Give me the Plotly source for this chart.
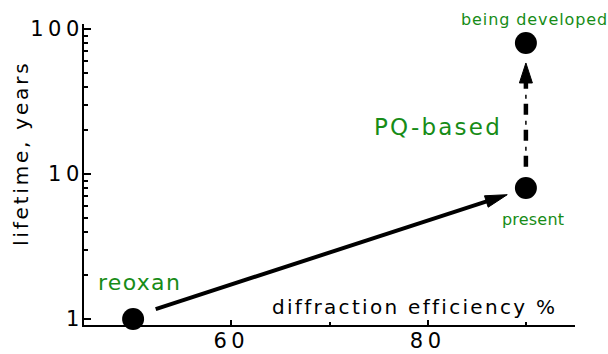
import math
import plotly.graph_objects as go

# ---------------- data ----------------
points_x = [50, 90, 90]
points_y = [1, 8, 80]
point_labels = ["reoxan", "present", "being developed"]

trend_x = [52.3, 88.1]      # solid arrow: reoxan -> present
trend_y = [1.17, 7.2]
dev_x = [90, 90]            # dash-dot arrow: present -> being developed
dev_y = [11.2, 58.3]

x_ticks = [60, 80]
x_tick_labels = ["60", "80"]
x_minor_ticks = [50, 70, 90]
y_ticks = [1, 10, 100]
y_tick_labels = ["1", "10", "100"]
y_minor_ticks = [2, 3, 4, 5, 6, 7, 8, 9, 20, 30, 40, 50, 60, 70, 80, 90]

group_label = "PQ-based"
x_title = "diffraction efficiency %"
y_title = "lifetime, years"

# ---------------- layout constants ----------------
W, H = 608, 354
ML, MR, MT, MB = 84, 33, 24, 29
PW, PH = W - ML - MR, H - MT - MB
X_RANGE = [45, 95]
Y_RANGE = [-0.0414, 2.0345]
FONT = "DejaVu Sans"
GREEN = "#178c17"


def to_px(x, y):
    px = ML + (x - X_RANGE[0]) / (X_RANGE[1] - X_RANGE[0]) * PW
    py = MT + (Y_RANGE[1] - math.log10(y)) / (Y_RANGE[1] - Y_RANGE[0]) * PH
    return px, py


def to_data(px, py):
    x = X_RANGE[0] + (px - ML) / PW * (X_RANGE[1] - X_RANGE[0])
    ly = Y_RANGE[1] - (py - MT) / PH * (Y_RANGE[1] - Y_RANGE[0])
    return x, 10 ** ly


def paper(px, py):
    return (px - ML) / PW, 1 - (py - MT) / PH


def arrow_parts(xs, ys, head_len, head_w):
    (sx, sy), (tx, ty) = to_px(xs[0], ys[0]), to_px(xs[1], ys[1])
    dx, dy = tx - sx, ty - sy
    L = math.hypot(dx, dy)
    ux, uy = dx / L, dy / L
    nx, ny = -uy, ux
    bx, by = tx - head_len * ux, ty - head_len * uy
    shaft_end = to_data(bx + 2 * ux, by + 2 * uy)
    c1 = to_data(bx + nx * head_w / 2, by + ny * head_w / 2)
    c2 = to_data(bx - nx * head_w / 2, by - ny * head_w / 2)
    shaft = ([xs[0], shaft_end[0]], [ys[0], shaft_end[1]])
    head = ([xs[1], c1[0], c2[0], xs[1]], [ys[1], c1[1], c2[1], ys[1]])
    return shaft, head


def spaced(text, s):
    return f'<span style="letter-spacing:{s}px">{text}</span>'


fig = go.Figure()

# solid arrow
shaft, head = arrow_parts(trend_x, trend_y, 22, 12)
fig.add_trace(go.Scatter(x=shaft[0], y=shaft[1], mode="lines",
                         line=dict(color="black", width=4), hoverinfo="skip"))
fig.add_trace(go.Scatter(x=head[0], y=head[1], mode="lines", fill="toself",
                         fillcolor="black", line=dict(color="black", width=1),
                         hoverinfo="skip"))

# dash-dot arrow
shaft2, head2 = arrow_parts(dev_x, dev_y, 20, 13)
fig.add_trace(go.Scatter(x=shaft2[0], y=shaft2[1], mode="lines",
                         line=dict(color="black", width=4.5, dash="11px,15px"),
                         hoverinfo="skip"))
fig.add_trace(go.Scatter(x=shaft2[0], y=shaft2[1], mode="lines",
                         line=dict(color="black", width=1.5, dash="0px,16px,4px,6px"),
                         hoverinfo="skip"))
fig.add_trace(go.Scatter(x=head2[0], y=head2[1], mode="lines", fill="toself",
                         fillcolor="black", line=dict(color="black", width=1),
                         hoverinfo="skip"))

# points
fig.add_trace(go.Scatter(x=points_x, y=points_y, mode="markers",
                         marker=dict(color="black", size=22, line=dict(width=0)),
                         cliponaxis=False, hoverinfo="skip"))

annotations = []
# point labels (offsets in px)
label_style = [
    dict(size=22, s=1.3, xshift=6, yshift=37),
    dict(size=16, s=0.2, xshift=7, yshift=-31),
    dict(size=16, s=0.9, xshift=9, yshift=24),
]
for xv, yv, txt, st in zip(points_x, points_y, point_labels, label_style):
    annotations.append(dict(
        x=xv, y=math.log10(yv), xref="x", yref="y", showarrow=False,
        text=spaced(txt, st["s"]), xshift=st["xshift"], yshift=st["yshift"],
        font=dict(family=FONT, size=st["size"], color=GREEN),
        xanchor="center", yanchor="middle"))

gx, gy = paper(438, 127)
annotations.append(dict(x=gx, y=gy, xref="paper", yref="paper", showarrow=False,
                        text=spaced(group_label, 2.2),
                        font=dict(family=FONT, size=23, color=GREEN),
                        xanchor="center", yanchor="middle"))

tx, ty = paper(414, 306.5)
annotations.append(dict(x=tx, y=ty, xref="paper", yref="paper", showarrow=False,
                        text=spaced(x_title, 2.3),
                        font=dict(family=FONT, size=20, color="black"),
                        xanchor="center", yanchor="middle"))

lx, ly = paper(20.5, 153.5)
annotations.append(dict(x=lx, y=ly, xref="paper", yref="paper", showarrow=False,
                        text=spaced(y_title, 2.8), textangle=-90,
                        font=dict(family=FONT, size=20, color="black"),
                        xanchor="center", yanchor="middle"))

fig.update_layout(
    width=W, height=H,
    margin=dict(l=ML, r=MR, t=MT, b=MB, pad=0, autoexpand=False),
    paper_bgcolor="white", plot_bgcolor="white",
    showlegend=False,
    annotations=annotations,
    xaxis=dict(
        range=X_RANGE, tickvals=x_ticks, automargin=False,
        ticktext=[spaced(t, 4.5) for t in x_tick_labels],
        ticks="inside", ticklen=5, tickwidth=2, tickcolor="black",
        showline=True, linewidth=2, linecolor="black",
        showgrid=False, zeroline=False, ticklabelstandoff=-4,
        tickfont=dict(family=FONT, size=21, color="black"),
        minor=dict(tickvals=x_minor_ticks, ticks="inside", ticklen=3,
                   tickwidth=1.5, tickcolor="black", showgrid=False),
    ),
    yaxis=dict(
        type="log", range=Y_RANGE, tickvals=y_ticks, automargin=False,
        ticktext=[spaced(t, 4.5) for t in y_tick_labels],
        ticks="inside", ticklen=7, tickwidth=2, tickcolor="black",
        showline=True, linewidth=2, linecolor="black",
        showgrid=False, zeroline=False, ticklabelstandoff=-6,
        tickfont=dict(family=FONT, size=21, color="black"),
        minor=dict(tickvals=y_minor_ticks, ticks="inside", ticklen=4,
                   tickwidth=1.5, tickcolor="black", showgrid=False),
    ),
)

fig.write_html("out.html", config={"displayModeBar": False},
               post_script="document.body.style.margin='0';document.body.style.overflow='hidden';")
